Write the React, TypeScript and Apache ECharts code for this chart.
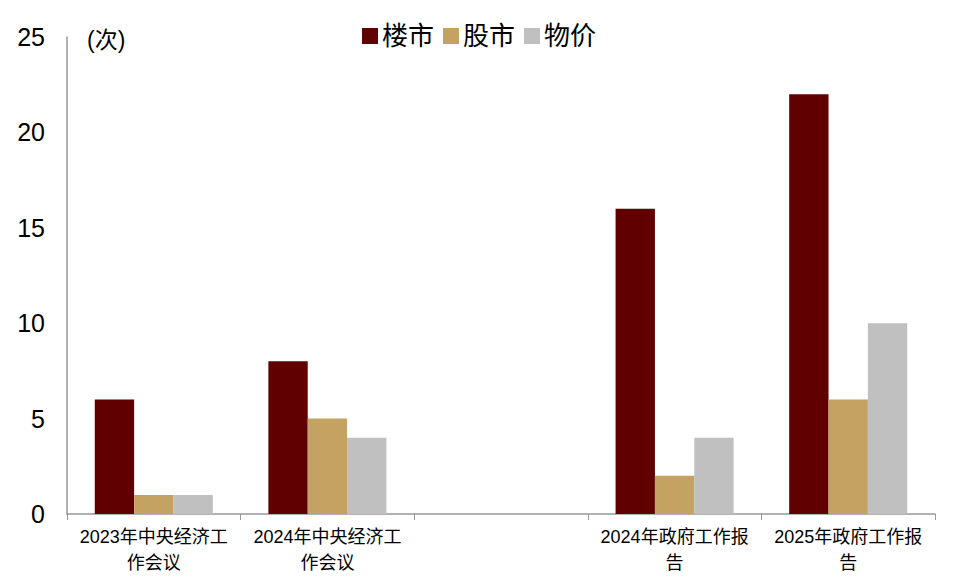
import React, { useEffect, useRef } from 'react';
import * as echarts from 'echarts';

const categories = [
  '2023年中央经济工作会议',
  '2024年中央经济工作会议',
  '',
  '2024年政府工作报告',
  '2025年政府工作报告',
];
const seriesNames = ['楼市', '股市', '物价'];
const housing = [6, 8, '-', 16, 22];
const stocks = [1, 5, '-', 2, 6];
const prices = [1, 4, '-', 4, 10];
const colors = ['#600000', '#C4A262', '#C0C0C0'];

const FONT = '"Liberation Sans", Arial, "Noto Sans CJK SC", sans-serif';

const App: React.FC = () => {
  const chartRef = useRef<HTMLDivElement>(null);

  useEffect(() => {
    if (!chartRef.current) return;
    const chart = echarts.init(chartRef.current, undefined, { renderer: 'svg' });

    const values = [housing, stocks, prices];

    const option: echarts.EChartsOption = {
      animation: false,
      backgroundColor: '#ffffff',
      textStyle: { fontFamily: FONT },
      grid: { left: 67, right: 23, top: 37, bottom: 70 },
      legend: {
        data: seriesNames,
        top: 18,
        left: 'center',
        itemWidth: 16,
        itemHeight: 16,
        itemGap: 9,
        icon: 'rect',
        textStyle: { fontSize: 26, color: '#000', fontFamily: FONT, padding: [0, 0, 0, -1] },
      },
      graphic: [
        {
          type: 'text',
          left: 87,
          top: 28,
          style: { text: '(次)', fontSize: 23, fill: '#000', fontFamily: FONT },
        },
      ],
      xAxis: {
        type: 'category',
        data: categories,
        axisLine: { lineStyle: { color: '#999', width: 1.5 } },
        axisTick: { show: true, length: 6, lineStyle: { color: '#999' } },
        axisLabel: {
          interval: 0,
          fontSize: 18,
          color: '#000',
          lineHeight: 26,
          margin: 10,
          formatter: (s: string) => (s.length > 10 ? s.slice(0, 10) + '\n' + s.slice(10) : s),
        },
      },
      yAxis: {
        type: 'value',
        min: 0,
        max: 25,
        interval: 5,
        splitLine: { show: false },
        axisLine: { show: true, lineStyle: { color: '#999', width: 1.5 } },
        axisTick: { show: false },
        axisLabel: { fontSize: 25, color: '#000', margin: 22 },
      },
      series: seriesNames.map((name, i) => ({
        name,
        type: 'bar',
        data: values[i],
        barGap: '0%',
        barCategoryGap: '32%',
        itemStyle: { color: colors[i] },
      })),
    };

    chart.setOption(option);
    return () => {
      chart.dispose();
    };
  }, []);

  return (
    <div
      ref={chartRef}
      style={{ position: 'absolute', left: 0, top: 0, width: '958px', height: '584px' }}
    />
  );
};

export default App;
